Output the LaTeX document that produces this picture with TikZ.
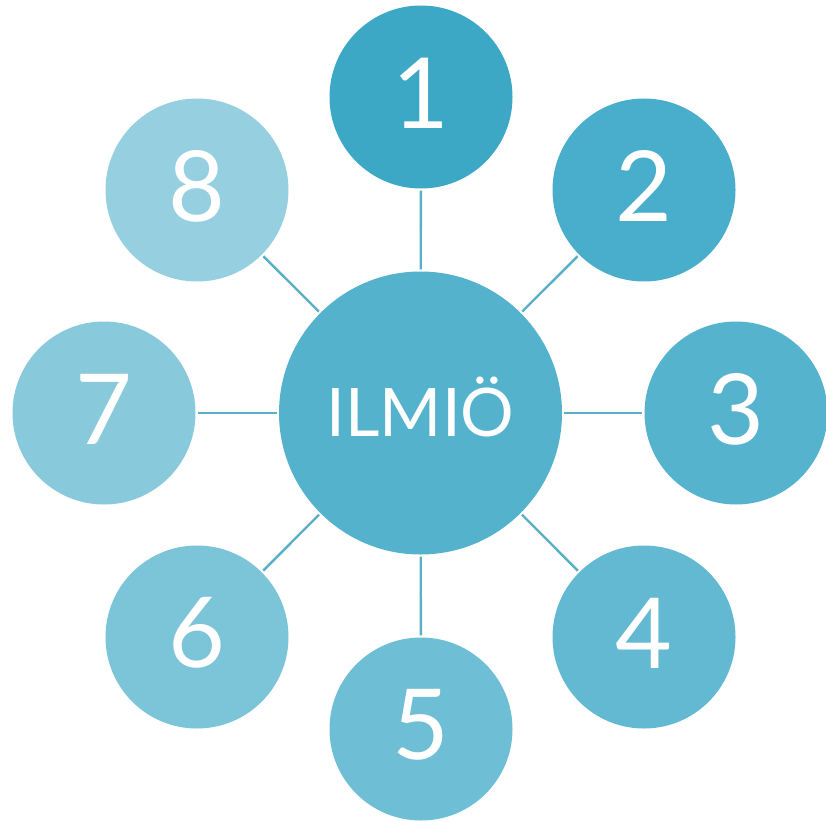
\documentclass[tikz,border=0pt]{standalone}
\usepackage{fontspec}
\setmainfont{Lato}
\definecolor{c1}{HTML}{3DA8C6}
\definecolor{c2}{HTML}{49AECB}
\definecolor{c3}{HTML}{55B3CD}
\definecolor{c4}{HTML}{63B9D2}
\definecolor{c5}{HTML}{6EBED5}
\definecolor{c6}{HTML}{7CC4D8}
\definecolor{c7}{HTML}{88C9DB}
\definecolor{c8}{HTML}{95CFE0}
\definecolor{cc}{HTML}{55B2CD}
\definecolor{ln}{HTML}{5AAFC8}
\begin{document}
\begin{tikzpicture}[x=1pt,y=-1pt,
  outer/.style={circle,minimum size=183pt,inner sep=0pt,text=white,font=\fontsize{98}{98}\selectfont},
  hub/.style={circle,minimum size=283pt,inner sep=0pt,text=white,fill=cc,font=\fontsize{70}{70}\selectfont},
  link/.style={draw=ln,line width=2.4pt,shorten <=2pt,shorten >=2pt}]
\useasboundingbox (0,0) rectangle (826,821);
\node[hub] (c) at (420.5,413) {};
\node[text=white,font=\fontsize{67}{67}\selectfont,yshift=6pt] (ct) at (420.5,413) {ILMIÖ};
\node[outer,fill=c1] (n1) at (421,97) {};
\node[outer,fill=c2] (n2) at (644,190) {};
\node[outer,fill=c3] (n3) at (736,413) {};
\node[outer,fill=c4] (n4) at (644,637) {};
\node[outer,fill=c5] (n5) at (421,729) {};
\node[outer,fill=c6] (n6) at (197,637) {};
\node[outer,fill=c7] (n7) at (104,413) {};
\node[outer,fill=c8] (n8) at (197,190) {};
\foreach \i in {1,...,8} {
  \node[text=white,font=\fontsize{98}{98}\selectfont,yshift=4pt] (t\i) at (n\i) {\i};
  \draw[link] (c) -- (n\i);
}
\end{tikzpicture}
\end{document}
